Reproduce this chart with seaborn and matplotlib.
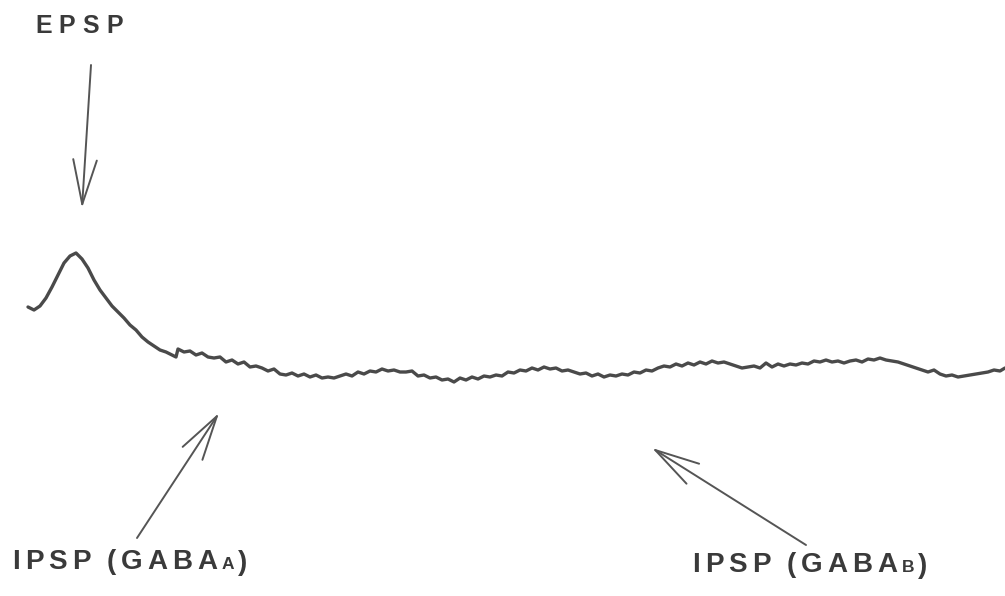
import matplotlib
matplotlib.use("Agg")
import matplotlib.pyplot as plt
import seaborn as sns
import pandas as pd

# Trace samples (pixel-space: x right, y down)
trace_x = [28, 34, 40, 46, 52, 58, 64, 70, 76, 82, 88, 94, 100, 106, 112, 118, 124, 130, 136, 142,
           148, 154, 160, 166, 172, 176, 178, 184, 190, 196, 202, 208, 214, 220, 226, 232, 238, 244,
           250, 256, 262, 268, 274, 280, 286, 292, 298, 304, 310, 316, 322, 328, 334, 340, 346, 352,
           358, 364, 370, 376, 382, 388, 394, 400, 406, 412, 418, 424, 430, 436, 442, 448, 454, 460,
           466, 472, 478, 484, 490, 496, 502, 508, 514, 520, 526, 532, 538, 544, 550, 556, 562, 568,
           574, 580, 586, 592, 598, 604, 610, 616, 622, 628, 634, 640, 646, 652, 658, 664, 670, 676,
           682, 688, 694, 700, 706, 712, 718, 724, 730, 736, 742, 748, 754, 760, 766, 772, 778, 784,
           790, 796, 802, 808, 814, 820, 826, 832, 838, 844, 850, 856, 862, 868, 874, 880, 886, 892,
           898, 904, 910, 916, 922, 928, 934, 940, 946, 952, 958, 964, 970, 976, 982, 988, 994, 1000, 1005]
trace_y = [307, 310, 306, 298, 287, 275, 263, 256, 253, 259, 268, 280, 290, 298, 306, 312, 318, 325, 330, 337,
           342, 346, 350, 352, 355, 357, 349, 352, 351, 355, 353, 357, 358, 357, 362, 360, 364, 362,
           367, 366, 368, 371, 369, 374, 375, 373, 376, 374, 377, 375, 378, 377, 378, 376, 374, 376,
           372, 374, 371, 372, 369, 371, 370, 372, 372, 371, 376, 375, 378, 377, 380, 379, 382, 378,
           380, 377, 379, 376, 377, 375, 376, 372, 373, 370, 371, 368, 370, 367, 369, 368, 371, 370,
           372, 374, 373, 376, 374, 377, 375, 376, 374, 375, 372, 373, 370, 371, 368, 366, 367, 364,
           366, 363, 365, 362, 364, 361, 363, 362, 364, 366, 368, 367, 366, 368, 363, 367, 364, 366,
           364, 365, 363, 364, 361, 362, 360, 362, 361, 363, 361, 360, 362, 359, 360, 358, 360, 361,
           362, 364, 366, 368, 370, 372, 370, 374, 376, 375, 377, 376, 375, 374, 373, 372, 370, 371, 368]

labels = ["EPSP", "IPSP (GABA", "IPSP (GABA"]
subscripts = ["", "A", "B"]

W, H = 1005, 596
sns.set_style("white")
fig = plt.figure(figsize=(W / 100, H / 100), dpi=100)
ax = fig.add_axes([0, 0, 1, 1])
df = pd.DataFrame({"x": trace_x, "y": trace_y})
sns.lineplot(data=df, x="x", y="y", ax=ax, color="#4a4a4a", linewidth=2.4, sort=False)
ax.set_xlim(0, W)
ax.set_ylim(H, 0)
ax.axis("off")

txtc = "#3a3a3a"
font_epsp = dict(family="Liberation Sans", fontsize=18, color=txtc, fontweight="bold")
font = dict(family="Liberation Sans", fontsize=20, color=txtc, fontweight="bold")
small = dict(family="Liberation Sans", fontsize=12.5, color=txtc, fontweight="bold")

arrow = dict(arrowstyle="->,head_length=3.2,head_width=0.85", color="#555555", lw=1.4,
             mutation_scale=10, shrinkA=0, shrinkB=0)
ax.annotate("", xy=(82, 208), xytext=(91, 65), arrowprops=arrow)
ax.annotate("", xy=(219, 413), xytext=(137, 538), arrowprops=arrow)
ax.annotate("", xy=(652, 448), xytext=(806, 545), arrowprops=arrow)

fig.canvas.draw()
r = fig.canvas.get_renderer()
inv = ax.transData.inverted()


def spaced(x, y, s, fnt, gap, space_w=9):
    """Place text character by character with extra letter spacing; return end x."""
    for ch in s:
        if ch == " ":
            x += space_w
            continue
        t = ax.text(x, y, ch, ha="left", va="baseline", **fnt)
        bb = t.get_window_extent(renderer=r)
        x = inv.transform((bb.x1, 0))[0] + gap
    return x


spaced(35, 33, labels[0], font_epsp, 7)
for (x0, yb), lab, sub in [((12, 569), labels[1], subscripts[1]), ((692, 572), labels[2], subscripts[2])]:
    xe = spaced(x0, yb, lab, font, 5, space_w=11)
    xe = spaced(xe - 1, yb, sub, small, 4)
    spaced(xe, yb + 1, ")", font, 0)

fig.savefig("out.png", dpi=100)
